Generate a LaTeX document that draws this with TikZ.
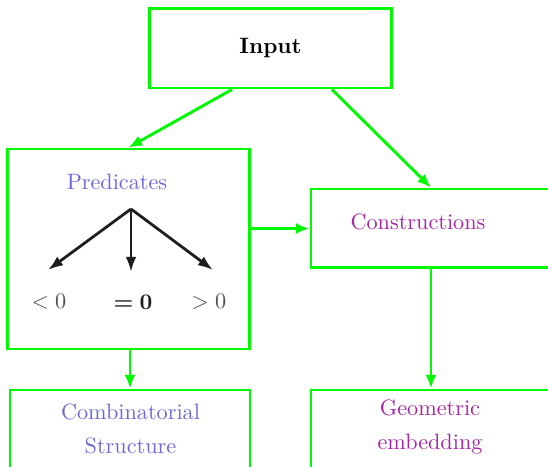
\documentclass[tikz,border=0pt]{standalone}
\usepackage{xcolor}
\usepackage{bm}
\usepackage{tikz}
\usetikzlibrary{arrows.meta,calc}
\definecolor{FlowGreen}{HTML}{00F800}
\definecolor{PredBlue}{HTML}{6A6AD8}
\definecolor{ConsPurple}{HTML}{A626A6}
\definecolor{TreeDark}{HTML}{1E1E1E}
\definecolor{SignGray}{HTML}{505050}
\tikzset{
  flowbox/.style={draw=FlowGreen,line width=1.3pt,fill=white,inner sep=0pt},
  flowarrow/.style={draw=FlowGreen,line width=1.3pt,-{Latex[length=6.2pt,width=5pt]}},
  treearrow/.style={draw=TreeDark,line width=1.25pt,-{Latex[length=6.8pt,width=4.8pt]}},
}

\begin{document}
\begin{tikzpicture}[x=0.45pt,y=-0.45pt]
\clip (0,0) rectangle (548,467);
\fill[white] (0,0) rectangle (548,467);
% boxes
\node[flowbox,minimum width=108.5pt,minimum height=35.6pt] (input) at (270.5,48.5) {\textbf{Input}};
\node[flowbox,minimum width=108.5pt,minimum height=90pt] (pred) at (128.5,249) {};
\node[flowbox,minimum width=108pt,minimum height=35.5pt] (cons) at (431,228.5) {};
\node[flowbox,minimum width=108pt,minimum height=90pt] (comb) at (130,490) {};
\node[flowbox,minimum width=108pt,minimum height=90pt] (geom) at (431,490) {};
% labels
\node[PredBlue] (predlabel) at (117,182) {Predicates};
\node[ConsPurple] (conslabel) at (418,222) {Constructions};
\node[PredBlue,align=center] (comblabel) at (130.5,429) {Combinatorial\\[3pt]Structure};
\node[ConsPurple,align=center] (geomlabel) at (430,427) {Geometric\\[3pt]embedding};
% sign tree
\coordinate (root) at (131,209);
\coordinate (lttip) at (48,270);
\coordinate (eqtip) at (131,272);
\coordinate (gttip) at (213,270);
\draw[treearrow] (root) -- (lttip);
\draw[treearrow] (root) -- (eqtip);
\draw[treearrow] (root) -- (gttip);
\node[SignGray] (lt) at (49,302) {$<0$};
\node[TreeDark] (eqz) at (133,302) {$\bm{=0}$};
\node[SignGray] (gt) at (209,302) {$>0$};
% flow
\draw[flowarrow] ($(input.south)+(-38.5,0)$) -- (pred.north);
\draw[flowarrow] ($(input.south)+(61.5,0)$) -- (cons.north);
\draw[flowarrow] (pred.east |- cons.west) -- (cons.west);
\draw[flowarrow] (comb.north |- pred.south) -- (comb.north);
\draw[flowarrow] (cons.south) -- (geom.north);
\end{tikzpicture}
\end{document}
